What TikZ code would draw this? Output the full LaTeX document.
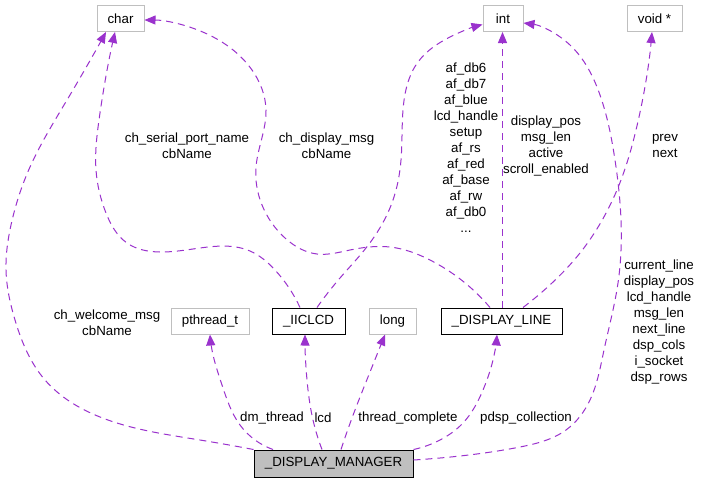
\documentclass[tikz,border=0pt]{standalone}
\usepackage{fontspec}
\setmainfont{Liberation Sans}
\usetikzlibrary{arrows.meta,hobby,calc}
\definecolor{edgec}{HTML}{9A32CD}
\definecolor{boxgray}{HTML}{BFBFBF}
\begin{document}
\begin{tikzpicture}[x=1pt,y=-1pt,
  every node/.style={font=\fontsize{13.3}{16}\selectfont, inner sep=0pt},
  cls/.style={draw=boxgray, line width=1pt, fill=white, minimum height=26pt},
  clsdark/.style={draw=black, line width=1pt, fill=white, minimum height=26pt},
  mgrbox/.style={draw=black, line width=1pt, fill=boxgray, minimum height=27pt},
  lbl/.style={align=center},
  dep/.style={draw=edgec, line width=1pt, dash pattern=on 7pt off 5pt,
    -{Triangle[length=11pt,width=9pt,fill=edgec]}, use Hobby shortcut},
]
\useasboundingbox[fill=white] (0,0) rectangle (701,485);

% class boxes
\node[cls, minimum width=47pt] (char) at (120.5,18.5) {char};
\node[cls, minimum width=40pt] (int) at (503,18.5) {int};
\node[cls, minimum width=55pt] (void) at (654.5,18.5) {void *};
\node[cls, minimum width=78pt] (pth) at (210,321) {pthread\_t};
\node[clsdark, minimum width=73pt] (iic) at (308.5,321) {\_IICLCD};
\node[cls, minimum width=47pt] (long) at (392.5,321) {long};
\node[clsdark, minimum width=121pt] (dl) at (501.5,321) {\_DISPLAY\_LINE};
\node[mgrbox, minimum width=159pt] (mgr) at (333.5,463.5) {\_DISPLAY\_MANAGER};

% edges
\draw[dep] (mgr.north west) .. (200,440) .. (100,417) .. (45,380) .. (15,320)
  .. (6,270) .. (11,225) .. (30,167) .. (67,100) .. ([xshift=-14.5pt]char.south);
\draw[dep] ([xshift=-8.5pt]iic.north) .. (275,270) .. (250,251) .. (200,248)
  .. (160,252) .. (127,243) .. (106,213) .. (96,170) .. (99,120) .. ([xshift=-5.5pt]char.south);
\draw[dep] ([xshift=-11.5pt]dl.north) .. (430,260) .. (390,247) .. (350,250) .. (317,254)
  .. (285,238) .. (262,205) .. (256,167) .. (266,110) .. (252,70) .. (205,33) .. ([yshift=-1.5pt]char.east);
\draw[dep] ([xshift=8.5pt]iic.north) .. (340,278) .. (366,248) .. (393,200) .. (401,160)
  .. (403,110) .. (418,62) .. (450,37) .. ([yshift=-6pt]int.west);
\draw[dep, line width=1.2pt] ([xshift=-0.5pt]dl.north -| int.south) -- ([xshift=-0.5pt]int.south);
\draw[dep] ([xshift=21.5pt]dl.north) .. (552,283) .. (580,253) .. (605,215) .. (621,180)
  .. (636,130) .. ([xshift=-2.5pt]void.south);
\draw[dep] ([yshift=3.5pt]mgr.east) .. (460,456) .. (520,447) .. (566,430) .. (590,400)
  .. (604,350) .. (618,283) .. (621,220) .. (615,160) .. (600,95) .. (570,45) .. ([yshift=-4.5pt]int.east);
\draw[dep] ([xshift=-60.5pt]mgr.north) .. (240,425) .. (222,385) .. (212,350) .. (pth.south);
\draw[dep] ([xshift=-11.5pt]mgr.north) .. (313,420) .. (307,380) .. ([xshift=-3.5pt]iic.south);
\draw[dep] ([xshift=7.5pt]mgr.north) .. (352,418) .. (370,372) .. ([xshift=-7.5pt]long.south);
\draw[dep] (mgr.north east) .. (440,440) .. (463,423) .. (483,390) .. (493,360) .. ([xshift=-4.5pt]dl.south);

% labels
\node[lbl] (l1) at (107,322.5) {ch\_welcome\_msg\\cbName};
\node[lbl] (l2) at (187,146) {ch\_serial\_port\_name\\cbName};
\node[lbl] (l3) at (326.5,146) {ch\_display\_msg\\cbName};
\node[lbl] (l4) at (466,147.5) {af\_db6\\af\_db7\\af\_blue\\lcd\_handle\\setup\\af\_rs\\af\_red\\af\_base\\af\_rw\\af\_db0\\...};
\node[lbl] (l5) at (546,146) {display\_pos\\msg\_len\\active\\scroll\_enabled};
\node[lbl] (l6) at (665,146) {prev\\next};
\node[lbl] (l7) at (659,322) {current\_line\\display\_pos\\lcd\_handle\\msg\_len\\next\_line\\dsp\_cols\\i\_socket\\dsp\_rows};
\node[lbl] (l8) at (272,418) {dm\_thread};
\node[lbl] (l9) at (323,418) {lcd};
\node[lbl] (l10) at (408,418) {thread\_complete};
\node[lbl] (l11) at (526,418) {pdsp\_collection};
\end{tikzpicture}
\end{document}
